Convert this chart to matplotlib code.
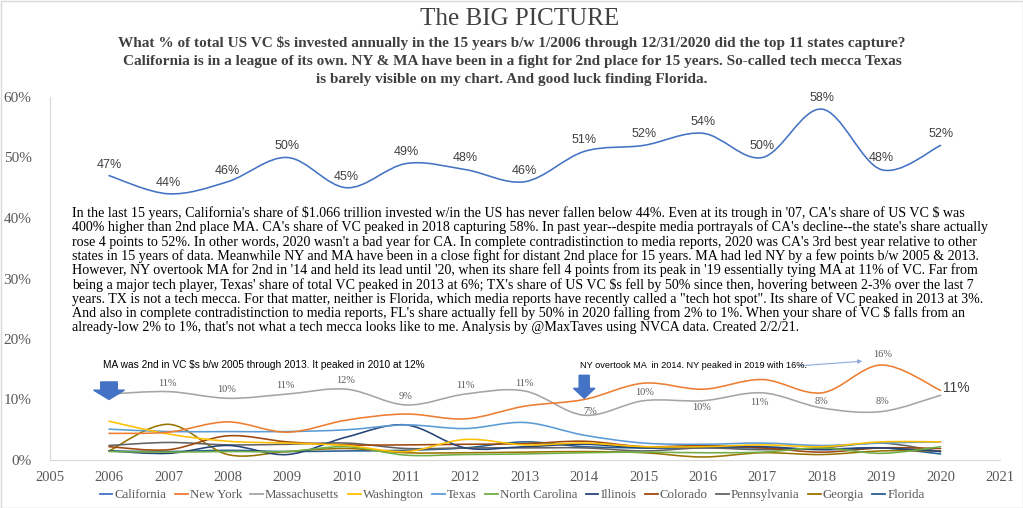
import numpy as np
import matplotlib
matplotlib.use("Agg")
import matplotlib.pyplot as plt
from matplotlib.path import Path
from matplotlib.patches import PathPatch, FancyArrow, Rectangle, FancyArrowPatch
from matplotlib.lines import Line2D

plt.rcParams["text.parse_math"] = False

# ---------------- data ----------------
years = [2006, 2007, 2008, 2009, 2010, 2011, 2012, 2013, 2014, 2015, 2016, 2017, 2018, 2019, 2020]
states = ["California", "New York", "Massachusetts", "Washington", "Texas", "North Carolina",
          "Illinois", "Colorado", "Pennsylvania", "Georgia", "Florida"]

california     = [47, 44, 46, 50, 45, 49, 48, 46, 51, 52, 54, 50, 58, 48, 52]
new_york       = [4.4, 4.6, 6.3, 4.6, 6.6, 7.6, 6.8, 8.9, 10.0, 12.7, 11.7, 13.3, 11.1, 15.7, 11.5]
massachusetts  = [10.9, 11.3, 10.2, 10.9, 11.7, 9.1, 10.9, 11.4, 7.4, 9.8, 9.8, 11.1, 8.6, 8.0, 10.7]
washington     = [6.4, 4.3, 3.1, 2.8, 2.4, 1.4, 3.4, 2.5, 2.8, 2.2, 2.2, 2.5, 2.2, 3.0, 3.0]
texas          = [5.1, 4.7, 4.7, 4.7, 5.0, 5.8, 5.2, 6.2, 4.1, 2.8, 2.6, 2.8, 2.4, 2.8, 3.0]
north_carolina = [1.4, 1.3, 1.4, 1.4, 2.2, 0.8, 0.9, 1.0, 1.2, 1.3, 1.2, 1.3, 2.0, 1.1, 2.2]
illinois       = [1.5, 1.1, 2.4, 0.9, 3.8, 5.8, 2.0, 2.2, 2.6, 2.0, 2.2, 2.2, 1.7, 2.0, 1.4]
colorado       = [2.2, 1.7, 4.0, 3.0, 2.5, 2.5, 2.6, 2.7, 3.1, 2.2, 2.4, 2.0, 1.3, 2.0, 1.9]
pennsylvania   = [2.4, 2.9, 2.5, 2.6, 2.8, 1.9, 2.0, 2.0, 2.0, 1.5, 2.0, 1.7, 2.0, 2.8, 1.4]
georgia        = [1.5, 5.9, 0.9, 1.4, 1.9, 1.2, 1.2, 1.3, 1.4, 1.2, 0.5, 1.2, 0.9, 1.5, 1.5]
florida        = [1.5, 1.4, 1.6, 1.4, 1.5, 1.6, 2.0, 3.0, 2.2, 2.0, 2.0, 2.0, 1.8, 2.0, 1.0]

series = [california, new_york, massachusetts, washington, texas, north_carolina,
          illinois, colorado, pennsylvania, georgia, florida]

ca_labels = ["47%", "44%", "46%", "50%", "45%", "49%", "48%", "46%", "51%", "52%", "54%", "50%", "58%", "48%", "52%"]
ma_labels = ["", "11%", "10%", "11%", "12%", "9%", "11%", "11%", "7%", "10%", "10%", "11%", "8%", "8%", "11%"]

x_ticks = list(range(2005, 2022))
y_ticks = [0, 10, 20, 30, 40, 50, 60]

body_lines = [
    "In the last 15 years, California's share of $1.066 trillion invested w/in the US has never fallen below 44%. Even at its trough in '07, CA's share of US VC $ was",
    "400% higher than 2nd place MA. CA's share of VC peaked in 2018 capturing 58%. In past year--despite media portrayals of CA's decline--the state's share actually",
    "rose 4 points to 52%. In other words, 2020 wasn't a bad year for CA. In complete contradistinction to media reports, 2020 was CA's 3rd best year relative to other",
    "states in 15 years of data. Meanwhile NY and MA have been in a close fight for distant 2nd place for 15 years. MA had led NY by a few points b/w 2005 & 2013.",
    "However, NY overtook MA for 2nd in '14 and held its lead until '20, when its share fell 4 points from its peak in '19 essentially tying MA at 11% of VC. Far from",
    "being a major tech player, Texas' share of total VC peaked in 2013 at 6%; TX's share of US VC $s fell by 50% since then, hovering between 2-3% over the last 7",
    "years. TX is not a tech mecca. For that matter, neither is Florida, which media reports have recently called a \"tech hot spot\". Its share of VC peaked in 2013 at 3%.",
    "And also in complete contradistinction to media reports, FL's share actually fell by 50% in 2020 falling from 2% to 1%. When your share of VC $ falls from an",
    "already-low 2% to 1%, that's not what a tech mecca looks like to me. Analysis by @MaxTaves using NVCA data. Created 2/2/21.",
]

title = "The BIG PICTURE"
subtitle_lines = [
    "What % of total US VC $s invested annually in the 15 years b/w 1/2006 through 12/31/2020 did the top 11 states capture?",
    "California is in a league of its own. NY & MA have been in a fight for 2nd place for 15 years. So-called tech mecca Texas",
    "is barely visible on my chart. And good luck finding Florida.",
]

# ---------------- style ----------------
colors = ["#4472C4", "#ED7D31", "#A5A5A5", "#FFC000", "#5B9BD5", "#70AD47",
          "#264478", "#9E480E", "#636363", "#997300", "#255E91"]
SERIF = ["Liberation Serif", "DejaVu Serif"]
SANS = ["Liberation Sans", "DejaVu Sans"]

W, H = 1023, 508
fig = plt.figure(figsize=(W / 100, H / 100), dpi=100)
fig.patch.set_facecolor("white")
fig.patches.append(Rectangle((0.5 / W, 0.5 / H), 1 - 1.0 / W, 1 - 1.0 / H, transform=fig.transFigure,
                             fill=False, edgecolor="#D9D9D9", linewidth=1.0))


def fx(px):
    return px / W


def fy(py):
    return 1 - py / H


ax = fig.add_axes([fx(49.6), fy(460), fx(1000) - fx(49.6), fy(97) - fy(460)])
ax.set_xlim(2005, 2021)
ax.set_ylim(0, 60)
ax.set_facecolor("none")
for s in ["top", "right"]:
    ax.spines[s].set_visible(False)
ax.spines["left"].set_color("#D9D9D9")
ax.spines["bottom"].set_color("#D9D9D9")
ax.set_xticks(x_ticks)
ax.set_xticklabels([str(v) for v in x_ticks], fontfamily=SERIF, fontsize=10.5, color="#595959")
ax.set_yticks(y_ticks)
ax.set_yticklabels([f"{v}%" for v in y_ticks], fontfamily=SERIF, fontsize=11, color="#595959")
ax.tick_params(axis="both", length=0)
ax.tick_params(axis="x", pad=8)
ax.tick_params(axis="y", pad=13)


def smooth_path(xs, ys):
    pts = np.column_stack([xs, ys]).astype(float)
    n = len(pts)
    verts = [pts[0]]
    codes = [Path.MOVETO]
    for i in range(n - 1):
        p0 = pts[i - 1] if i > 0 else pts[i]
        p1 = pts[i]
        p2 = pts[i + 1]
        p3 = pts[i + 2] if i + 2 < n else pts[i + 1]
        c1 = p1 + (p2 - p0) / 6.0
        c2 = p2 - (p3 - p1) / 6.0
        verts += [c1, c2, p2]
        codes += [Path.CURVE4] * 3
    return Path(np.array(verts), codes)


for i in list(range(len(series)))[::-1]:
    patch = PathPatch(smooth_path(years, series[i]), fill=False, edgecolor=colors[i],
                      linewidth=1.15, zorder=3 + (len(series) - i) * 0.01, capstyle="round")
    ax.add_patch(patch)

# California labels
for x, v, lab in zip(years, california, ca_labels):
    ax.annotate(lab, (x, v), xytext=(0, 8), textcoords="offset points", ha="center", va="center",
                fontfamily=SANS, fontsize=9, color="#404040", zorder=6)

# Massachusetts labels (offsets in points)
ma_offsets = [(0, 0), (-1, 6), (-1, 6), (-1, 6.5), (-1, 6), (0, 6), (0, 6), (0, 5.5), (4, 3),
              (1, 6), (-1, -5), (-2, -7), (0, 5), (1, 7), (0, 0)]
for x, v, lab, off in zip(years[:-1], massachusetts[:-1], ma_labels[:-1], ma_offsets[:-1]):
    if not lab:
        continue
    ax.annotate(lab, (x, v), xytext=off, textcoords="offset points", ha="center", va="center",
                fontfamily=SERIF, fontsize=7.5, color="#595959", zorder=6)
ax.annotate(ma_labels[-1], (years[-1], massachusetts[-1]), xytext=(11, 5), textcoords="offset points",
            ha="center", va="center", fontfamily=SANS, fontsize=10, color="#404040", zorder=6)
ny_peak = int(np.argmax(new_york))
ax.annotate(f"{round(new_york[ny_peak])}%", (years[ny_peak], new_york[ny_peak]), xytext=(1, 7.5),
            textcoords="offset points", ha="center", va="center", fontfamily=SERIF, fontsize=7.5,
            color="#595959", zorder=6)

# block arrows
ax.add_patch(FancyArrow(2006.0, 12.9, 0, -2.9, width=0.28, head_width=0.52, head_length=1.55,
                        length_includes_head=True, color="#4472C4", zorder=7))
ax.add_patch(FancyArrow(2014.0, 14.0, 0, -3.8, width=0.17, head_width=0.36, head_length=1.65,
                        length_includes_head=True, color="#4472C4", zorder=7))

# annotations
fig.text(fx(103), fy(365), "MA was 2nd in VC $s b/w 2005 through 2013. It peaked in 2010 at 12%",
         fontfamily=SANS, fontsize=7.3, color="black", va="center", ha="left")
fig.text(fx(580), fy(366), "NY overtook MA  in 2014. NY peaked in 2019 with 16%.",
         fontfamily=SANS, fontsize=6.6, color="black", va="center", ha="left")
fig.add_artist(FancyArrowPatch((fx(797), fy(366)), (fx(865), fy(361)),
                               transform=fig.transFigure, arrowstyle="-|>",
                               mutation_scale=6, color="#8FAADC", linewidth=0.8))

# titles
fig.text(fx(520), fy(19), title, fontfamily=SERIF, fontsize=18, color="#404040", ha="center", va="center")
for k, line in enumerate(subtitle_lines):
    fig.text(fx(512), fy(43 + 18 * k), line, fontfamily=SERIF, fontsize=11, fontweight="bold",
             color="#404040", ha="center", va="center")

# body text
for k, line in enumerate(body_lines):
    fig.text(fx(72), fy(213.3 + 14.25 * k), line, fontfamily=SERIF, fontsize=10.1, color="black",
             ha="left", va="center")

# legend
handles = [Line2D([0], [0], color=c, lw=1.3) for c in colors]
leg = fig.legend(handles, states, loc="center", bbox_to_anchor=(fx(512), fy(495)), ncol=len(states),
                 frameon=False, handlelength=1.0, handletextpad=0.15, columnspacing=0.65,
                 prop={"family": SERIF, "size": 9.3})
for t in leg.get_texts():
    t.set_color("#595959")

fig.savefig("out.png", dpi=100, facecolor="white")
